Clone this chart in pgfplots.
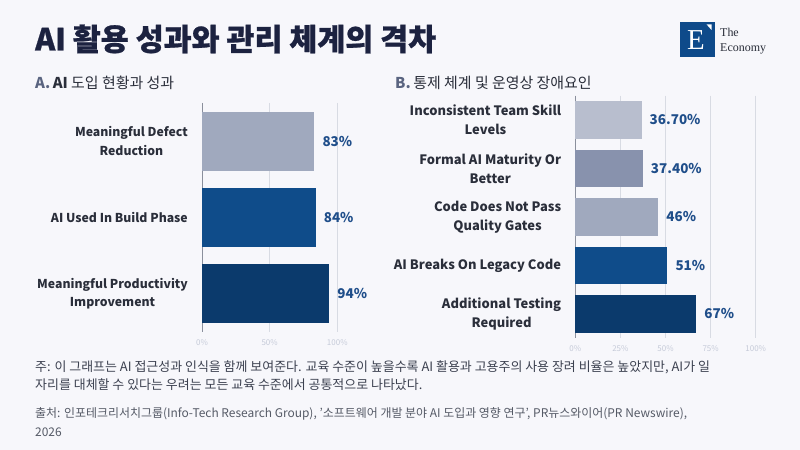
\documentclass[border=0pt]{standalone}
\usepackage{pgfplots}
\pgfplotsset{compat=1.18}
\usepackage{fontspec}
\setmainfont{Noto Sans CJK KR}
\newfontfamily\titlefont{Noto Sans CJK KR}[BoldFeatures={FakeBold=0.8}]
\newfontfamily\logoserif{Liberation Serif}
\definecolor{bg}{HTML}{F7F7FB}
\definecolor{titlec}{HTML}{1C2240}
\definecolor{labc}{HTML}{2A2E3A}
\definecolor{subg}{HTML}{5A6480}
\definecolor{notec}{HTML}{3C4150}
\definecolor{srcc}{HTML}{555A66}
\definecolor{cA}{HTML}{A0A9BE}
\definecolor{cB}{HTML}{B8BECE}
\definecolor{cC}{HTML}{8892AD}
\definecolor{cblue}{HTML}{0F4C8A}
\definecolor{cnavy}{HTML}{0B3A6C}
\definecolor{valc}{HTML}{1F4E8A}
\definecolor{tickc}{HTML}{C5CAD8}
\definecolor{gridc}{HTML}{D8DBE3}
\definecolor{axc}{HTML}{8A8F9C}
\definecolor{logob}{HTML}{0E4A8A}
\pgfplotsset{
  common/.style={
    scale only axis,
    anchor=south west,
    xbar,
    xmin=0, xmax=100,
    y dir=reverse,
    axis y line=left,
    axis x line=bottom,
    x axis line style={draw=none},
    y axis line style={draw=axc, line width=0.8bp, -},
    xmajorgrids,
    major grid style={draw=gridc, line width=0.7bp},
    major tick length=0pt,
    xticklabel style={font=\fontsize{8}{8}\selectfont, text=tickc, inner sep=0pt, yshift=-7bp},
    yticklabel style={font=\fontsize{13}{19}\selectfont\bfseries, text=labc, align=center, anchor=east, inner sep=0pt, xshift=-14bp},
    nodes near coords style={font=\fontsize{13.5}{13.5}\selectfont\bfseries, text=valc, anchor=west, inner sep=0pt, xshift=8bp},
    clip=false,
  },
}
\begin{document}
\begin{tikzpicture}[x=1bp,y=1bp]
\fill[bg] (0,0) rectangle (800,450);
% title
\node[anchor=west, inner sep=0pt, text=titlec, font=\titlefont\fontsize{30.5}{30.5}\selectfont\bfseries] at (35,411) {AI 활용 성과와 관리 체계의 격차};
% logo
\fill[logob] (680,428) rectangle (715,393);
\node[text=white, font=\logoserif\fontsize{29}{29}\selectfont, inner sep=0pt] at (696,410) {E};
\fill[white] (706.5,425.7) -- (711.5,425.7) -- (711.5,420) -- cycle;
\node[anchor=base west, inner sep=0pt, font=\logoserif\fontsize{12}{12}\selectfont, text=labc] at (720,413) {The};
\node[anchor=base west, inner sep=0pt, font=\logoserif\fontsize{12}{12}\selectfont, text=labc] at (720,398.5) {Economy};
% subtitles
\node[anchor=west, inner sep=0pt, font=\fontsize{15}{15}\selectfont] at (35,367) {\textcolor{subg}{\bfseries A.}\,\textcolor{labc}{\bfseries AI} \textcolor{labc}{도입 현황과 성과}};
\node[anchor=west, inner sep=0pt, font=\fontsize{15}{15}\selectfont] at (395,367) {\textcolor{subg}{\bfseries B.}\,\textcolor{labc}{통제 체계 및 운영상 장애요인}};

% Panel A
\begin{axis}[common,
  at={(202bp,118bp)}, width=135.3bp, height=229bp,
  ymin=-0.5, ymax=2.5,
  bar width=0.776,
  xtick={0,50,100}, xticklabels={0\%,50\%,100\%},
  ytick={0,1,2},
  yticklabel style={font=\fontsize{12.3}{18.5}\selectfont\bfseries},
  yticklabels={{Meaningful Defect\\Reduction},{AI Used In Build Phase},{Meaningful Productivity\\Improvement}},
]
\addplot[fill=cA, draw=none, bar shift=0pt, nodes near coords={83\%}] coordinates {(83,0)};
\addplot[fill=cblue, draw=none, bar shift=0pt, nodes near coords={84\%}] coordinates {(84,1)};
\addplot[fill=cnavy, draw=none, bar shift=0pt, nodes near coords={94\%}] coordinates {(94,2)};
\end{axis}

% Panel B
\begin{axis}[common,
  at={(575.3bp,111.75bp)}, width=180.4bp, height=242.5bp,
  ymin=-0.5, ymax=4.5,
  bar width=0.78,
  xtick={0,25,50,75,100}, xticklabels={0\%,25\%,50\%,75\%,100\%},
  ytick={0,1,2,3,4},
  yticklabels={{Inconsistent Team Skill\\Levels},{Formal AI Maturity Or\\Better},{Code Does Not Pass\\Quality Gates},{AI Breaks On Legacy Code},{Additional Testing\\Required}},
]
\addplot[fill=cB, draw=none, bar shift=0pt, nodes near coords={36.70\%}] coordinates {(36.7,0)};
\addplot[fill=cC, draw=none, bar shift=0pt, nodes near coords={37.40\%}] coordinates {(37.4,1)};
\addplot[fill=cA, draw=none, bar shift=0pt, nodes near coords={46\%}] coordinates {(46,2)};
\addplot[fill=cblue, draw=none, bar shift=0pt, nodes near coords={51\%}] coordinates {(51,3)};
\addplot[fill=cnavy, draw=none, bar shift=0pt, nodes near coords={67\%}] coordinates {(67,4)};
\end{axis}

% note and source
\node[anchor=north west, inner sep=0pt, align=left, text=notec, font=\fontsize{13}{19}\selectfont] at (35,90) {주: 이 그래프는 AI 접근성과 인식을 함께 보여준다. 교육 수준이 높을수록 AI 활용과 고용주의 사용 장려 비율은 높았지만, AI가 일\\자리를 대체할 수 있다는 우려는 모든 교육 수준에서 공통적으로 나타났다.};
\node[anchor=north west, inner sep=0pt, align=left, text=srcc, font=\fontsize{12}{19}\selectfont] at (35,43) {출처: 인포테크리서치그룹(Info-Tech Research Group), '소프트웨어 개발 분야 AI 도입과 영향 연구', PR뉴스와이어(PR Newswire),\\2026};
\end{tikzpicture}
\end{document}
